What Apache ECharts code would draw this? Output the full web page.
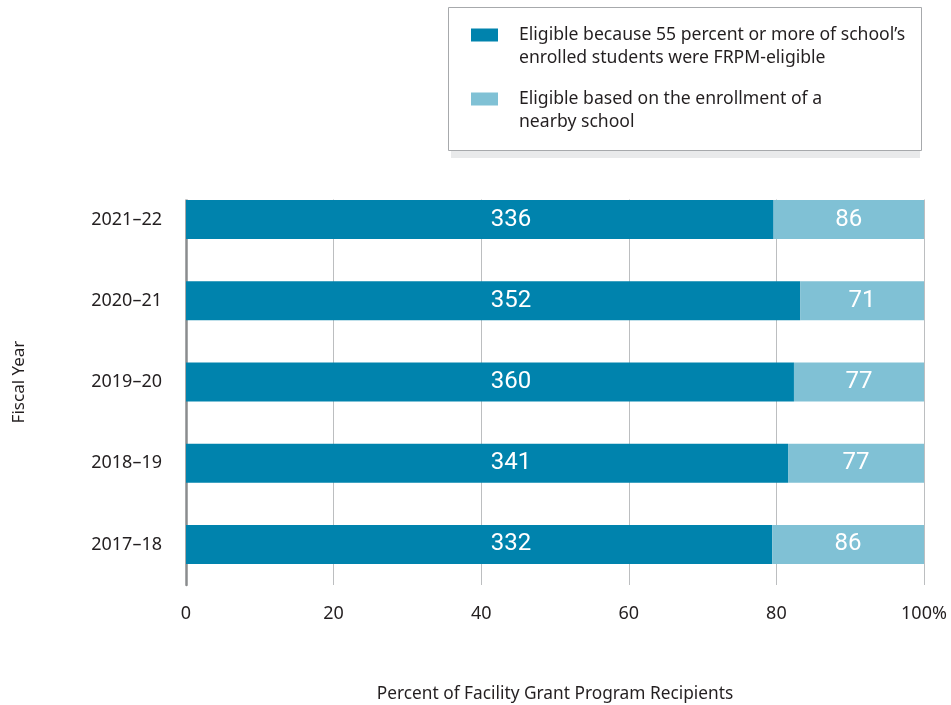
<!DOCTYPE html>
<html><head><meta charset="utf-8">
<script src="https://cdn.jsdelivr.net/npm/echarts@6/dist/echarts.min.js"></script>
<style>html,body{margin:0;padding:0;background:#fff}#c{width:951px;height:705px}</style>
</head><body><div id="c"></div>
<script>
var years = ['2017–18', '2018–19', '2019–20', '2020–21', '2021–22'];
var ownEnrollment = [332, 341, 360, 352, 336];
var nearbySchool = [86, 77, 77, 71, 86];
var seriesNames = ["Eligible because 55 percent or more of school’s\nenrolled students were FRPM-eligible",
                   "Eligible based on the enrollment of a\nnearby school"];
var xTicks = [0, 20, 40, 60, 80, 100];

var totals = years.map(function(_, i){ return ownEnrollment[i] + nearbySchool[i]; });
function pct(arr){ return arr.map(function(v, i){ return { value: v / totals[i] * 100, count: v }; }); }

var font = '"Noto Sans", "Open Sans", sans-serif';
var legendIcon = 'path://M0,5L27,5L27,18L0,18Z M0,0L27,0 M0,46L27,46';
var chart = echarts.init(document.getElementById('c'), null, {renderer: 'canvas'});
chart.setOption({
  animation: false,
  grid: { left: 186, right: 27, top: 179, height: 406, containLabel: false, outerBoundsMode: 'none' },
  graphic: [
    { type: 'rect', z: -10, shape: { x: 451, y: 14, width: 469, height: 144 }, style: { fill: '#e9eaeb' } },
    { type: 'rect', z: -9, shape: { x: 448.5, y: 7.5, width: 473, height: 143 }, style: { fill: '#fff', stroke: '#a7a9ac', lineWidth: 1 } },
    { type: 'rect', z: 10, shape: { x: 182, y: 170, width: 745, height: 29.5 }, style: { fill: '#fff' } }
  ],
  legend: {
    orient: 'vertical', left: 466, top: 18.5, itemWidth: 27, itemHeight: 46, itemGap: 18,
    icon: legendIcon,
    textStyle: { fontFamily: font, fontSize: 17.6, color: '#231f20', lineHeight: 23, padding: [0, 0, 0, 16] },
    itemStyle: { borderWidth: 0 }
  },
  xAxis: {
    type: 'value', min: 0, max: 100, interval: 20,
    name: 'Percent of Facility Grant Program Recipients', nameLocation: 'middle', nameGap: 101,
    nameTextStyle: { fontFamily: font, fontSize: 17.3, color: '#231f20' },
    axisLine: { show: false }, axisTick: { show: false },
    axisLabel: { margin: 20, fontFamily: font, fontSize: 18, color: '#231f20',
      formatter: function(v){ return v === 100 ? '100%' : String(v); } },
    splitLine: { show: true, lineStyle: { color: '#bcbec0', width: 1 } }
  },
  yAxis: {
    type: 'category', data: years,
    name: 'Fiscal Year', nameLocation: 'middle', nameGap: 158,
    nameTextStyle: { fontFamily: font, fontSize: 17, color: '#231f20' },
    axisLine: { show: true, lineStyle: { color: '#8a8c8e', width: 2.5 } },
    axisTick: { show: false },
    axisLabel: { margin: 24, fontFamily: font, fontSize: 18, color: '#231f20' }
  },
  series: [
    { name: seriesNames[0], type: 'bar', stack: 'a', barWidth: 39, data: pct(ownEnrollment),
      itemStyle: { color: '#0083ad' },
      label: { show: true, position: [325, '50%'], align: 'center', verticalAlign: 'middle',
        color: '#fff', fontFamily: 'Roboto, sans-serif', fontSize: 24,
        formatter: function(p){ return p.data.count; } } },
    { name: seriesNames[1], type: 'bar', stack: 'a', barWidth: 39, data: pct(nearbySchool),
      itemStyle: { color: '#80c1d5' },
      label: { show: true, position: 'inside', color: '#fff', fontFamily: 'Roboto, sans-serif', fontSize: 24,
        formatter: function(p){ return p.data.count; } } }
  ]
});
</script></body></html>
